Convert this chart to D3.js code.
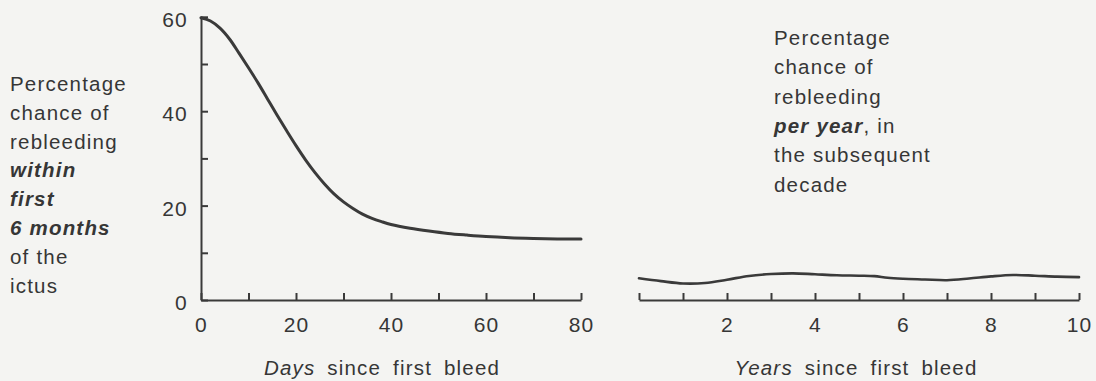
<!DOCTYPE html>
<html>
<head>
<meta charset="utf-8">
<script src="https://cdn.jsdelivr.net/npm/d3@7"></script>
<style>
  html, body { margin: 0; padding: 0; background: #f4f4f2; }
  svg { display: block; }
  text { font-family: "Liberation Sans", Arial, Helvetica, sans-serif; fill: #363636; letter-spacing: 1.2px; }
</style>
</head>
<body>
<svg id="chart" width="1096" height="381"></svg>
<script>
// ---- Data ----
const days = [0, 2, 4, 6, 8, 10, 12, 14, 16, 18, 20, 22, 24, 26, 28, 30, 32, 34, 36, 38, 40, 44, 48, 52, 56, 60, 65, 70, 75, 80];
const rebleedPct = [59.8, 59.1, 57.6, 55.3, 52.3, 49.2, 46.0, 42.6, 39.2, 35.9, 32.7, 29.7, 27.0, 24.6, 22.5, 20.8, 19.4, 18.2, 17.3, 16.6, 16.0, 15.2, 14.6, 14.1, 13.75, 13.45, 13.2, 13.05, 12.95, 12.9];

const years = [0, 0.5, 1.0, 1.5, 2.0, 2.5, 3.0, 3.5, 4.0, 4.5, 5.0, 5.35, 5.65, 6.0, 6.5, 7.0, 7.5, 8.0, 8.5, 9.0, 9.5, 10];
const annualPct = [4.6, 4.0, 3.5, 3.6, 4.3, 5.1, 5.5, 5.65, 5.45, 5.25, 5.15, 5.05, 4.7, 4.5, 4.35, 4.2, 4.55, 5.0, 5.3, 5.15, 4.95, 4.85];

const yTicks = [0, 10, 20, 30, 40, 50, 60];
const yTickLabels = [0, 20, 40, 60];
const dayTicks = [0, 10, 20, 30, 40, 50, 60, 70, 80];
const dayTickLabels = [0, 20, 40, 60, 80];
const yearTicks = [0, 1, 2, 3, 4, 5, 6, 7, 8, 9, 10];
const yearTickLabels = [2, 4, 6, 8, 10];

const leftTitleLines = [
  [{t: "Percentage", s: "n"}],
  [{t: "chance of", s: "n"}],
  [{t: "rebleeding", s: "n"}],
  [{t: "within", s: "bi"}],
  [{t: "first", s: "bi"}],
  [{t: "6 months", s: "bi"}],
  [{t: "of the", s: "n"}],
  [{t: "ictus", s: "n"}]
];
const rightTitleLines = [
  [{t: "Percentage", s: "n"}],
  [{t: "chance of", s: "n"}],
  [{t: "rebleeding", s: "n"}],
  [{t: "per year", s: "bi"}, {t: ", in", s: "n"}],
  [{t: "the subsequent", s: "n"}],
  [{t: "decade", s: "n"}]
];
const leftXTitle = [{t: "Days", s: "i"}, {t: " since first bleed", s: "n"}];
const rightXTitle = [{t: "Years", s: "i"}, {t: " since first bleed", s: "n"}];

// ---- Drawing ----
const svg = d3.select("#chart");
const ink = "#3a3a3a";
const fs = 20.5;

const y = d3.scaleLinear().domain([0, 60]).range([300, 16.8]);
const xDays = d3.scaleLinear().domain([0, 80]).range([201, 581]);
const xYears = d3.scaleLinear().domain([0, 10]).range([639, 1079]);

function styleSpan(sel, s) {
  sel.attr("font-weight", s === "bi" ? "bold" : "normal")
     .attr("font-style", (s === "bi" || s === "i") ? "italic" : "normal");
}
function multiText(lines, x, y0, lh) {
  lines.forEach((parts, i) => {
    const t = svg.append("text").attr("x", x).attr("y", y0 + i * lh).attr("font-size", fs);
    parts.forEach(p => { styleSpan(t.append("tspan").text(p.t), p.s); });
  });
}

// Left y axis
const yAxis = d3.axisLeft(y).tickValues(yTicks).tickSize(-7).tickSizeOuter(0).tickPadding(13)
  .tickFormat(d => yTickLabels.includes(d) ? d : "");
const gy = svg.append("g").attr("transform", `translate(${xDays(0)},0)`).call(yAxis);

// Left x axis
const xAxisL = d3.axisBottom(xDays).tickValues(dayTicks).tickSize(-7).tickSizeOuter(0).tickPadding(17)
  .tickFormat(d => dayTickLabels.includes(d) ? d : "");
const gxl = svg.append("g").attr("transform", `translate(0,${y(0)})`).call(xAxisL);

// Right x axis
const xAxisR = d3.axisBottom(xYears).tickValues(yearTicks).tickSize(-7).tickSizeOuter(0).tickPadding(17)
  .tickFormat(d => yearTickLabels.includes(d) ? d : "");
const gxr = svg.append("g").attr("transform", `translate(0,${y(0)})`).call(xAxisR);

[gy, gxl, gxr].forEach(g => {
  g.selectAll(".domain").attr("stroke", ink).attr("stroke-width", 2);
  g.selectAll(".tick line").attr("stroke", ink).attr("stroke-width", 2);
  g.selectAll(".tick text").attr("font-size", 21).attr("fill", "#363636")
    .attr("font-family", '"Liberation Sans", Arial, sans-serif');
});
gy.selectAll(".tick text").attr("dy", "0.45em");

// Curves
const lineL = d3.line().x((d, i) => xDays(days[i])).y(d => y(d)).curve(d3.curveCatmullRom.alpha(0.5));
svg.append("path").datum(rebleedPct).attr("d", lineL)
  .attr("fill", "none").attr("stroke", ink).attr("stroke-width", 3).attr("stroke-linecap", "round");

const lineR = d3.line().x((d, i) => xYears(years[i])).y(d => y(d)).curve(d3.curveCatmullRom.alpha(0.5));
svg.append("path").datum(annualPct).attr("d", lineR)
  .attr("fill", "none").attr("stroke", ink).attr("stroke-width", 2.6).attr("stroke-linecap", "round");

// Titles
multiText(leftTitleLines, 10, 90.7, 28.9);
multiText(rightTitleLines, 774, 45, 29.3);

function centeredTitle(parts, cx, yy) {
  const t = svg.append("text").attr("x", cx).attr("y", yy).attr("font-size", fs)
    .attr("text-anchor", "middle").attr("word-spacing", 5);
  parts.forEach(p => { styleSpan(t.append("tspan").text(p.t), p.s); });
}
centeredTitle(leftXTitle, 382, 375);
centeredTitle(rightXTitle, 856, 375);
</script>
</body>
</html>
